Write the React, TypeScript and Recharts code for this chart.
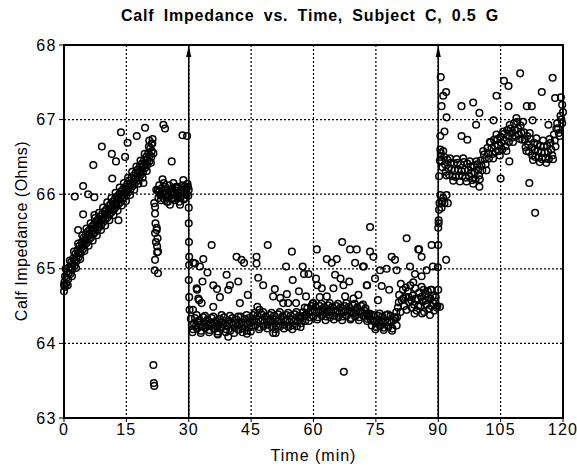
import React from "react";
import {
  ScatterChart,
  Scatter,
  XAxis,
  YAxis,
  CartesianGrid,
  ReferenceLine,
  ReferenceDot,
  ReferenceArea,
} from "recharts";

const timeTicks = [0, 15, 30, 45, 60, 75, 90, 105, 120];
const impedanceTicks = [63, 64, 65, 66, 67, 68];
const minorTicks = [
  63.2, 63.4, 63.6, 63.8, 64.2, 64.4, 64.6, 64.8, 65.2, 65.4, 65.6, 65.8,
  66.2, 66.4, 66.6, 66.8, 67.2, 67.4, 67.6, 67.8,
];
const markerTimes = [30, 90];

// 0-21.5 min: rising band
const rampBand = [
  [0.0, 64.78], [0.25, 64.9], [0.5, 64.8], [0.75, 64.96], [1.0, 64.86], [1.25, 65.02], [1.5, 64.93], [1.75, 65.09],
  [2.0, 64.99], [2.25, 65.14], [2.5, 65.04], [2.75, 65.2], [3.0, 65.1], [3.25, 65.25], [3.5, 65.15], [3.75, 65.31],
  [4.0, 65.21], [4.25, 65.36], [4.5, 65.26], [4.75, 65.42], [5.0, 65.32], [5.25, 65.46], [5.5, 65.35], [5.75, 65.5],
  [6.0, 65.39], [6.25, 65.53], [6.5, 65.42], [6.75, 65.57], [7.0, 65.46], [7.25, 65.6], [7.5, 65.49], [7.75, 65.63],
  [8.0, 65.52], [8.25, 65.67], [8.5, 65.56], [8.75, 65.7], [9.0, 65.59], [9.25, 65.74], [9.5, 65.63], [9.75, 65.77],
  [10.0, 65.66], [10.25, 65.8], [10.5, 65.69], [10.75, 65.84], [11.0, 65.73], [11.25, 65.87], [11.5, 65.76], [11.75, 65.9],
  [12.0, 65.79], [12.25, 65.94], [12.5, 65.83], [12.75, 65.97], [13.0, 65.86], [13.25, 66.0], [13.5, 65.89], [13.75, 66.04],
  [14.0, 65.93], [14.25, 66.07], [14.5, 65.96], [14.75, 66.1], [15.0, 65.99], [15.25, 66.14], [15.5, 66.03], [15.75, 66.18],
  [16.0, 66.07], [16.25, 66.22], [16.5, 66.11], [16.75, 66.25], [17.0, 66.14], [17.25, 66.29], [17.5, 66.18], [17.75, 66.33],
  [18.0, 66.22], [18.25, 66.37], [18.5, 66.26], [18.75, 66.41], [19.0, 66.3], [19.25, 66.46], [19.5, 66.35], [19.75, 66.5],
  [20.0, 66.39], [20.25, 66.55], [20.5, 66.44], [20.75, 66.62], [21.0, 66.5], [21.25, 66.68], [21.5, 66.55],
  [0.1, 64.82], [0.6, 64.88], [1.1, 64.94], [1.6, 65.0], [2.1, 65.06], [2.6, 65.11], [3.1, 65.17], [3.6, 65.22],
  [4.1, 65.28], [4.6, 65.33], [5.1, 65.39], [5.6, 65.42], [6.1, 65.46], [6.6, 65.49], [7.1, 65.52], [7.6, 65.56],
  [8.1, 65.59], [8.6, 65.63], [9.1, 65.66], [9.6, 65.69], [10.1, 65.73], [10.6, 65.76], [11.1, 65.79], [11.6, 65.83],
  [12.1, 65.86], [12.6, 65.89], [13.1, 65.93], [13.6, 65.96], [14.1, 65.99], [14.6, 66.03], [15.1, 66.06], [15.6, 66.1],
  [16.1, 66.14], [16.6, 66.17], [17.1, 66.21], [17.6, 66.25], [18.1, 66.29], [18.6, 66.33], [19.1, 66.38], [19.6, 66.42],
  [20.1, 66.46], [20.6, 66.52], [21.1, 66.58], [0.0, 64.7], [0.3, 64.76],
];

const rampEdges = [
  [0.4, 65.0], [0.9, 64.78], [1.4, 65.11], [1.9, 64.9], [2.4, 65.23], [2.9, 65.01], [3.4, 65.34], [3.9, 65.13],
  [4.4, 65.45], [4.9, 65.24], [5.4, 65.54], [5.9, 65.31], [6.4, 65.61], [6.9, 65.38], [7.4, 65.68], [7.9, 65.45],
  [8.4, 65.75], [8.9, 65.52], [9.4, 65.82], [9.9, 65.58], [10.4, 65.89], [10.9, 65.65], [11.4, 65.95], [11.9, 65.72],
  [12.4, 66.02], [12.9, 65.78], [13.4, 66.09], [13.9, 65.85], [14.4, 66.15], [14.9, 65.91], [15.4, 66.22], [15.9, 65.99],
  [16.4, 66.3], [16.9, 66.06], [17.4, 66.37], [17.9, 66.14], [18.4, 66.45], [18.9, 66.22], [19.4, 66.54], [19.9, 66.31],
  [20.4, 66.64], [20.9, 66.42], [21.3, 66.74],
];

const rampScatter = [
  [2.6, 65.97], [4.6, 66.11], [5.8, 66.0], [7.3, 65.96], [4.6, 65.73], [3.4, 65.52], [7.3, 65.72], [13.1, 65.65],
  [11.6, 66.21], [19.1, 66.15], [7.05, 66.39], [9.1, 66.64], [11.5, 66.54], [12.5, 66.44], [13.7, 66.83], [14.7, 66.5],
  [15.3, 66.69], [17.5, 66.78], [19.5, 66.89], [21.1, 66.68], [20.5, 66.72],
];

// 21.5-30 min: drop then plateau near 66
const plateau = [
  [22.5, 66.05], [22.7, 65.95], [22.9, 66.12], [23.1, 66.0], [23.3, 65.92], [23.5, 66.08], [23.7, 66.2], [23.9, 66.02],
  [24.1, 65.94], [24.3, 66.1], [24.5, 66.0], [24.7, 65.9], [24.9, 66.06], [25.1, 65.98], [25.3, 66.12], [25.5, 65.86],
  [25.7, 66.03], [25.9, 65.95], [26.1, 66.08], [26.3, 66.15], [26.5, 66.0], [26.7, 65.92], [26.9, 66.05], [27.1, 65.97],
  [27.3, 66.1], [27.5, 66.02], [27.7, 65.9], [27.9, 65.86], [28.1, 66.06], [28.3, 65.98], [28.5, 66.12], [28.7, 66.19],
  [28.9, 66.03], [29.1, 65.95], [29.3, 66.08], [29.5, 66.0], [29.7, 66.14], [29.9, 65.98], [30.0, 66.06], [23.0, 66.05],
  [24.0, 66.15], [25.0, 65.9], [26.0, 66.0], [27.0, 66.1], [28.0, 65.95], [29.0, 66.1], [22.2, 66.06], [21.9, 65.83],
  [22.8, 66.03], [23.4, 65.98], [24.2, 66.05], [24.8, 65.96], [25.6, 66.02], [26.2, 65.94], [26.8, 66.09], [27.4, 65.96],
  [28.2, 66.02], [28.8, 65.93], [29.4, 66.04], [29.8, 66.1],
  [21.7, 65.88], [21.9, 65.74], [22.0, 65.61], [22.3, 65.55], [21.9, 65.48], [22.5, 65.41], [22.1, 65.36], [22.4, 65.3],
  [22.6, 65.23], [21.9, 65.12], [21.8, 64.98], [22.6, 64.94], [22.3, 65.52], [22.4, 65.22], [21.5, 63.71], [21.6, 63.47],
  [21.7, 63.43], [23.9, 66.93], [24.3, 66.88], [28.5, 66.79], [25.9, 66.44], [29.6, 66.78],
  [30.0, 65.82], [30.0, 65.61], [30.05, 65.36], [30.1, 65.16], [30.1, 65.05], [30.0, 64.85], [30.1, 64.62], [30.2, 64.45],
];

// 30-90 min: low baseline band
const baselineBand = [
  [30.5, 64.33], [31.0, 64.19], [31.5, 64.34], [32.0, 64.2], [32.5, 64.31], [33.0, 64.17], [33.5, 64.35], [34.0, 64.21],
  [34.5, 64.32], [35.0, 64.18], [35.5, 64.34], [36.0, 64.2], [36.5, 64.3], [37.0, 64.16], [37.5, 64.33], [38.0, 64.22],
  [38.5, 64.35], [39.0, 64.19], [39.5, 64.31], [40.0, 64.17], [40.5, 64.34], [41.0, 64.21], [41.5, 64.32], [42.0, 64.18],
  [42.5, 64.36], [43.0, 64.2], [43.5, 64.33], [44.0, 64.17], [44.5, 64.34], [45.0, 64.22], [45.5, 64.38], [46.0, 64.24],
  [46.5, 64.37], [47.0, 64.22], [47.5, 64.39], [48.0, 64.23], [48.5, 64.36], [49.0, 64.25], [49.5, 64.38], [50.0, 64.22],
  [50.5, 64.37], [51.0, 64.24], [51.5, 64.39], [52.0, 64.23], [52.5, 64.36], [53.0, 64.25], [53.5, 64.38], [54.0, 64.22],
  [54.5, 64.37], [55.0, 64.24], [55.5, 64.39], [56.0, 64.23], [56.5, 64.37], [57.0, 64.27], [57.5, 64.42], [58.0, 64.3],
  [58.5, 64.47], [59.0, 64.35], [59.5, 64.5], [60.0, 64.36], [60.5, 64.49], [61.0, 64.35], [61.5, 64.5], [62.0, 64.37],
  [62.5, 64.48], [63.0, 64.36], [63.5, 64.51], [64.0, 64.35], [64.5, 64.49], [65.0, 64.37], [65.5, 64.5], [66.0, 64.35],
  [66.5, 64.48], [67.0, 64.36], [67.5, 64.5], [68.0, 64.37], [68.5, 64.49], [69.0, 64.34], [69.5, 64.51], [70.0, 64.36],
  [70.5, 64.48], [71.0, 64.35], [71.5, 64.5], [72.0, 64.37], [72.5, 64.47], [73.0, 64.33], [73.5, 64.4], [74.0, 64.24],
  [74.5, 64.38], [75.0, 64.22], [75.5, 64.37], [76.0, 64.23], [76.5, 64.36], [77.0, 64.21], [77.5, 64.38], [78.0, 64.22],
  [78.5, 64.37], [79.0, 64.2], [79.5, 64.35], [80.0, 64.24],
  [30.75, 64.25], [31.25, 64.27], [31.75, 64.24], [32.25, 64.28], [32.75, 64.25], [33.25, 64.23], [33.75, 64.27], [34.25, 64.26],
  [34.75, 64.24], [35.25, 64.28], [35.75, 64.25], [36.25, 64.27], [36.75, 64.23], [37.25, 64.26], [37.75, 64.28], [38.25, 64.25],
  [38.75, 64.27], [39.25, 64.24], [39.75, 64.26], [40.25, 64.28], [40.75, 64.25], [41.25, 64.27], [41.75, 64.24], [42.25, 64.26],
  [42.75, 64.28], [43.25, 64.25], [43.75, 64.27], [44.25, 64.26], [44.75, 64.28], [45.25, 64.3], [45.75, 64.31], [46.25, 64.29],
  [46.75, 64.32], [47.25, 64.3], [47.75, 64.31], [48.25, 64.29], [48.75, 64.32], [49.25, 64.3], [49.75, 64.31], [50.25, 64.29],
  [50.75, 64.32], [51.25, 64.3], [51.75, 64.31], [52.25, 64.29], [52.75, 64.32], [53.25, 64.3], [53.75, 64.31], [54.25, 64.29],
  [54.75, 64.32], [55.25, 64.3], [55.75, 64.31], [56.25, 64.3], [56.75, 64.33], [57.25, 64.35], [57.75, 64.37], [58.25, 64.39],
  [58.75, 64.41], [59.25, 64.43], [59.75, 64.42], [60.25, 64.44], [60.75, 64.43], [61.25, 64.42], [61.75, 64.44], [62.25, 64.43],
  [62.75, 64.41], [63.25, 64.44], [63.75, 64.42], [64.25, 64.43], [64.75, 64.44], [65.25, 64.42], [65.75, 64.43], [66.25, 64.41],
  [66.75, 64.44], [67.25, 64.42], [67.75, 64.43], [68.25, 64.44], [68.75, 64.42], [69.25, 64.43], [69.75, 64.41], [70.25, 64.44],
  [70.75, 64.42], [71.25, 64.43], [71.75, 64.41], [72.25, 64.44], [72.75, 64.4], [73.25, 64.36], [73.75, 64.32], [74.25, 64.3],
  [74.75, 64.29], [75.25, 64.31], [75.75, 64.28], [76.25, 64.3], [76.75, 64.29], [77.25, 64.31], [77.75, 64.28], [78.25, 64.3],
  [78.75, 64.29], [79.25, 64.31], [79.75, 64.33],
  [30.9, 64.15], [31.9, 64.38], [32.9, 64.14], [33.9, 64.37], [34.9, 64.15], [35.9, 64.36], [36.9, 64.13], [37.9, 64.38],
  [38.9, 64.15], [39.9, 64.37], [40.9, 64.14], [41.9, 64.36], [42.9, 64.15], [43.9, 64.38], [44.9, 64.16], [45.9, 64.41],
  [46.9, 64.19], [47.9, 64.42], [48.9, 64.2], [49.9, 64.41], [50.9, 64.19], [51.9, 64.42], [52.9, 64.2], [53.9, 64.41],
  [54.9, 64.19], [55.9, 64.42], [56.9, 64.22], [57.9, 64.48], [58.9, 64.3], [59.9, 64.54], [60.9, 64.32], [61.9, 64.53],
  [62.9, 64.31], [63.9, 64.54], [64.9, 64.32], [65.9, 64.53], [66.9, 64.31], [67.9, 64.54], [68.9, 64.32], [69.9, 64.53],
  [70.9, 64.31], [71.9, 64.52], [72.9, 64.3], [73.9, 64.38], [74.9, 64.19], [75.9, 64.4], [76.9, 64.18], [77.9, 64.39],
  [78.9, 64.17], [79.9, 64.42],
  [80.3, 64.48], [80.6, 64.65], [80.9, 64.42], [81.2, 64.58], [81.5, 64.72], [81.8, 64.5], [82.1, 64.62], [82.4, 64.45],
  [82.7, 64.7], [83.0, 64.55], [83.3, 64.78], [83.6, 64.48], [83.9, 64.64], [84.2, 64.52], [84.5, 64.74], [84.8, 64.44],
  [85.1, 64.6], [85.4, 64.68], [85.7, 64.5], [86.0, 64.76], [86.3, 64.56], [86.6, 64.42], [86.9, 64.66], [87.2, 64.52],
  [87.5, 64.7], [87.8, 64.46], [88.1, 64.6], [88.4, 64.5], [88.7, 64.64], [89.0, 64.44], [89.3, 64.56], [89.6, 64.48],
  [80.5, 64.55], [81.0, 64.8], [81.6, 64.6], [82.2, 64.75], [82.9, 64.62], [83.5, 64.58], [84.0, 64.82], [84.6, 64.6],
  [85.2, 64.5], [85.9, 64.62], [86.5, 64.72], [87.0, 64.58], [87.6, 64.62], [88.2, 64.72], [88.8, 64.54], [89.4, 64.62],
  [84.3, 64.4], [86.1, 64.4], [88.0, 64.38], [80.1, 64.35],
];

const baselineScatter = [
  [31.5, 65.07], [32.0, 64.72], [32.5, 64.58], [31.0, 64.45],
  [31.1, 65.08], [32.7, 65.03], [33.5, 65.13], [35.5, 65.32], [41.5, 65.16], [42.7, 65.12], [43.3, 65.08], [46.3, 65.16],
  [46.3, 65.07], [49.0, 65.32], [53.4, 65.03], [54.8, 65.23], [57.4, 65.03], [57.7, 64.93], [58.8, 64.93], [60.8, 65.26],
  [63.2, 65.13], [64.4, 65.08], [65.6, 65.13], [66.9, 65.36], [68.8, 65.26], [70.0, 65.08], [70.4, 65.26], [71.9, 65.03],
  [72.1, 65.03], [73.6, 65.56], [73.6, 65.23], [74.4, 65.16], [76.0, 64.98], [77.6, 65.0], [78.8, 65.16], [79.6, 65.12],
  [80.0, 64.98], [82.4, 65.41], [83.2, 65.03], [84.4, 64.93], [85.2, 65.26], [85.4, 65.26], [86.0, 65.16], [86.0, 64.9],
  [87.2, 64.98], [88.4, 65.32], [88.7, 65.03], [88.4, 64.72],
  [31.9, 64.74], [33.3, 64.83], [35.9, 64.78], [36.8, 64.73], [39.1, 64.92], [39.9, 64.78], [41.9, 64.83], [39.5, 64.72],
  [46.7, 64.88], [47.9, 64.78], [50.7, 64.73], [32.3, 64.6], [33.1, 64.54], [35.9, 64.49], [42.3, 64.54], [46.5, 64.49],
  [50.3, 64.63], [52.0, 64.61], [53.6, 64.66], [52.7, 64.54], [53.9, 64.54], [58.2, 64.63], [55.8, 64.54], [59.8, 64.53],
  [60.6, 64.87], [60.9, 64.78], [62.0, 64.74], [63.2, 64.63], [64.8, 64.74], [65.2, 64.92], [66.5, 64.87], [67.2, 64.78],
  [68.6, 64.83], [67.6, 64.63], [69.6, 64.6], [72.8, 64.78], [74.8, 64.87], [72.9, 64.78], [76.4, 64.77],
  [34.5, 64.95], [37.5, 64.62], [44.2, 64.65], [47.0, 64.45], [55.0, 64.85], [56.5, 64.7], [61.5, 64.62], [70.8, 64.65],
  [75.5, 64.58], [78.2, 64.72],
  [39.5, 64.09], [50.3, 64.14], [50.9, 64.14], [67.3, 63.62], [37.0, 64.12], [44.0, 64.13],
];

// 90-120 min: jump and upper band
const recoveryBand = [
  [89.8, 64.5], [90.0, 64.72], [89.9, 65.02], [90.0, 65.32], [90.1, 65.61], [90.1, 65.65], [90.2, 65.79], [90.0, 65.55],
  [90.3, 65.88], [90.5, 65.99], [91.0, 65.9], [91.5, 65.88], [92.0, 65.99], [92.3, 65.88], [91.2, 65.95], [90.8, 65.82],
  [90.4, 64.49], [91.9, 65.12], [90.2, 66.24], [90.4, 66.45], [90.5, 66.6], [90.6, 66.5],
  [90.6, 66.55], [91.0, 66.36], [91.4, 66.5], [91.8, 66.3], [92.2, 66.46], [92.6, 66.26], [93.0, 66.42], [93.4, 66.24],
  [93.8, 66.41], [94.2, 66.23], [94.6, 66.42], [95.0, 66.25], [95.4, 66.4], [95.8, 66.24], [96.2, 66.43], [96.6, 66.22],
  [97.0, 66.41], [97.4, 66.24], [97.8, 66.37], [98.2, 66.19], [98.6, 66.38], [99.0, 66.2], [99.4, 66.4], [99.8, 66.25],
  [100.2, 66.45], [100.6, 66.32], [101.0, 66.53], [101.4, 66.4], [101.8, 66.62], [102.2, 66.48], [102.6, 66.7], [103.0, 66.54],
  [103.4, 66.73], [103.8, 66.57], [104.2, 66.74], [104.6, 66.58], [105.0, 66.77], [105.4, 66.6], [105.8, 66.81], [106.2, 66.64],
  [106.6, 66.86], [107.0, 66.7], [107.4, 66.88], [107.8, 66.76], [108.2, 66.95], [108.6, 66.78], [109.0, 66.97], [109.4, 66.8],
  [109.8, 66.92], [110.2, 66.73], [110.6, 66.83], [111.0, 66.63], [111.4, 66.78], [111.8, 66.57], [112.2, 66.74], [112.6, 66.52],
  [113.0, 66.69], [113.4, 66.5], [113.8, 66.67], [114.2, 66.49], [114.6, 66.65], [115.0, 66.47], [115.4, 66.64], [115.8, 66.48],
  [116.2, 66.65], [116.6, 66.47], [117.0, 66.69], [117.4, 66.52], [117.8, 66.8], [118.2, 66.64], [118.6, 66.95], [119.0, 66.82],
  [119.4, 67.05], [119.8, 66.95], [120.0, 67.1],
  [90.8, 66.45], [91.6, 66.4], [92.4, 66.35], [93.2, 66.33], [94.0, 66.32], [94.8, 66.33], [95.6, 66.31], [96.4, 66.33],
  [97.2, 66.32], [98.0, 66.28], [98.8, 66.29], [99.6, 66.33], [100.4, 66.38], [101.2, 66.47], [102.0, 66.55], [102.8, 66.62],
  [103.6, 66.65], [104.4, 66.66], [105.2, 66.69], [106.0, 66.72], [106.8, 66.78], [107.6, 66.82], [108.4, 66.86], [109.2, 66.88],
  [110.0, 66.82], [110.8, 66.73], [111.6, 66.67], [112.4, 66.63], [113.2, 66.6], [114.0, 66.58], [114.8, 66.56], [115.6, 66.56],
  [116.4, 66.57], [117.2, 66.6], [118.0, 66.72], [118.8, 66.88], [119.6, 67.0],
  [91.2, 66.58], [92.0, 66.25], [92.8, 66.48], [93.6, 66.18], [94.4, 66.47], [95.2, 66.17], [96.0, 66.48], [96.8, 66.17],
  [97.6, 66.44], [98.4, 66.14], [99.2, 66.44], [100.0, 66.2], [100.8, 66.58], [101.6, 66.32], [102.4, 66.7], [103.2, 66.48],
  [104.0, 66.8], [104.8, 66.52], [105.6, 66.84], [106.4, 66.58], [107.2, 66.93], [108.0, 66.7], [108.8, 67.02], [109.6, 66.74],
  [110.4, 66.97], [111.2, 66.58], [112.0, 66.82], [112.8, 66.46], [113.6, 66.75], [114.4, 66.43], [115.2, 66.72], [116.0, 66.42],
  [116.8, 66.74], [117.6, 66.47], [118.4, 66.88], [119.2, 66.78],
];

const recoveryScatter = [
  [90.6, 67.57], [91.2, 67.32], [91.9, 67.37], [90.8, 67.18], [92.0, 67.03], [91.5, 66.84], [90.5, 66.78], [95.6, 67.18],
  [98.4, 67.23], [99.9, 67.09], [99.1, 66.93], [95.6, 66.78], [97.0, 66.73], [103.3, 66.99], [104.0, 67.32], [105.8, 67.52],
  [106.9, 67.45], [106.9, 67.18], [109.7, 67.62], [111.3, 67.18], [112.5, 67.18], [114.9, 67.37], [112.7, 66.99], [117.5, 67.56],
  [116.5, 66.93], [118.1, 67.29], [111.9, 66.15], [113.3, 65.75], [107.1, 66.44], [105.0, 66.21], [99.9, 66.1], [119.8, 67.2],
  [119.5, 67.3],
];

const allPoints = [
  ...rampBand,
  ...rampEdges,
  ...rampScatter,
  ...plateau,
  ...baselineBand,
  ...baselineScatter,
  ...recoveryBand,
  ...recoveryScatter,
].map(([t, v]) => ({ t, v }));

const font = "'Liberation Sans', Arial, Helvetica, sans-serif";

const Ring = (props: any) => (
  <circle cx={props.cx} cy={props.cy} r={3.3} fill="none" stroke="#000" strokeWidth={1.5} />
);

const Arrow = (props: any) => (
  <path
    d={`M${props.cx},${props.cy + 1} L${props.cx - 2.6},${props.cy + 12} L${props.cx + 2.6},${props.cy + 12} Z`}
    fill="#000"
  />
);

export default function App() {
  return (
    <div
      style={{
        position: "absolute",
        left: 0,
        top: 0,
        width: 577,
        height: 468,
        background: "#fff",
        fontFamily: font,
        overflow: "hidden",
      }}
    >
      <div
        style={{
          position: "absolute",
          left: 60,
          width: 500,
          top: 7,
          textAlign: "center",
          fontSize: 16,
          fontWeight: "bold",
          letterSpacing: 0.8,
          wordSpacing: 4,
          color: "#000",
        }}
      >
        Calf Impedance vs. Time, Subject C, 0.5 G
      </div>
      <div
        style={{
          position: "absolute",
          left: 64,
          width: 499,
          top: 447,
          textAlign: "center",
          fontSize: 16,
          letterSpacing: 1,
          color: "#000",
        }}
      >
        Time (min)
      </div>
      <div
        style={{
          position: "absolute",
          left: 22,
          top: 231,
          transform: "translate(-50%, -50%) rotate(-90deg)",
          whiteSpace: "nowrap",
          fontSize: 16,
          letterSpacing: 0.5,
          color: "#000",
        }}
      >
        Calf Impedance (Ohms)
      </div>
      <ScatterChart
        width={577}
        height={468}
        margin={{ top: 45, right: 14, bottom: 0, left: 0 }}
        style={{ position: "absolute", left: 0, top: 0 }}
      >
        <CartesianGrid stroke="#000" strokeDasharray="2 2" strokeWidth={1.2} />
        <XAxis
          dataKey="t"
          type="number"
          domain={[0, 120]}
          ticks={timeTicks}
          height={50}
          axisLine={{ stroke: "#000", strokeWidth: 2 }}
          tickLine={{ stroke: "#000" }}
          tickSize={4}
          tickMargin={2}
          tick={{ fill: "#000", fontSize: 16, fontFamily: font, letterSpacing: 1.2 }}
          interval={0}
        />
        <YAxis
          yAxisId="minorL"
          type="number"
          domain={[63, 68]}
          ticks={minorTicks}
          orientation="left"
          mirror
          width={0}
          axisLine={false}
          tick={false}
          tickSize={4}
          tickLine={{ stroke: "#000" }}
        />
        <YAxis
          dataKey="v"
          type="number"
          domain={[63, 68]}
          ticks={impedanceTicks}
          width={64}
          axisLine={{ stroke: "#000", strokeWidth: 2 }}
          tickLine={{ stroke: "#000" }}
          tickSize={5}
          tickMargin={2}
          tick={{ fill: "#000", fontSize: 16, fontFamily: font, letterSpacing: 1.5 }}
          interval={0}
        />
        <YAxis
          yAxisId="minorR"
          type="number"
          domain={[63, 68]}
          ticks={minorTicks}
          orientation="right"
          mirror
          width={0}
          axisLine={{ stroke: "#000", strokeWidth: 2 }}
          tick={false}
          tickSize={4}
          tickLine={{ stroke: "#000" }}
        />
        <ReferenceArea
          x1={0}
          x2={120}
          y1={63}
          y2={68}
          fill="none"
          stroke="#000"
          strokeWidth={2}
          ifOverflow="visible"
        />
        {markerTimes.map((m) => (
          <ReferenceLine key={`l${m}`} x={m} stroke="#000" strokeWidth={1.6} />
        ))}
        {markerTimes.map((m) => (
          <ReferenceDot key={`a${m}`} x={m} y={68} shape={Arrow} ifOverflow="visible" />
        ))}
        <Scatter data={allPoints} shape={Ring} isAnimationActive={false} />
      </ScatterChart>
    </div>
  );
}
